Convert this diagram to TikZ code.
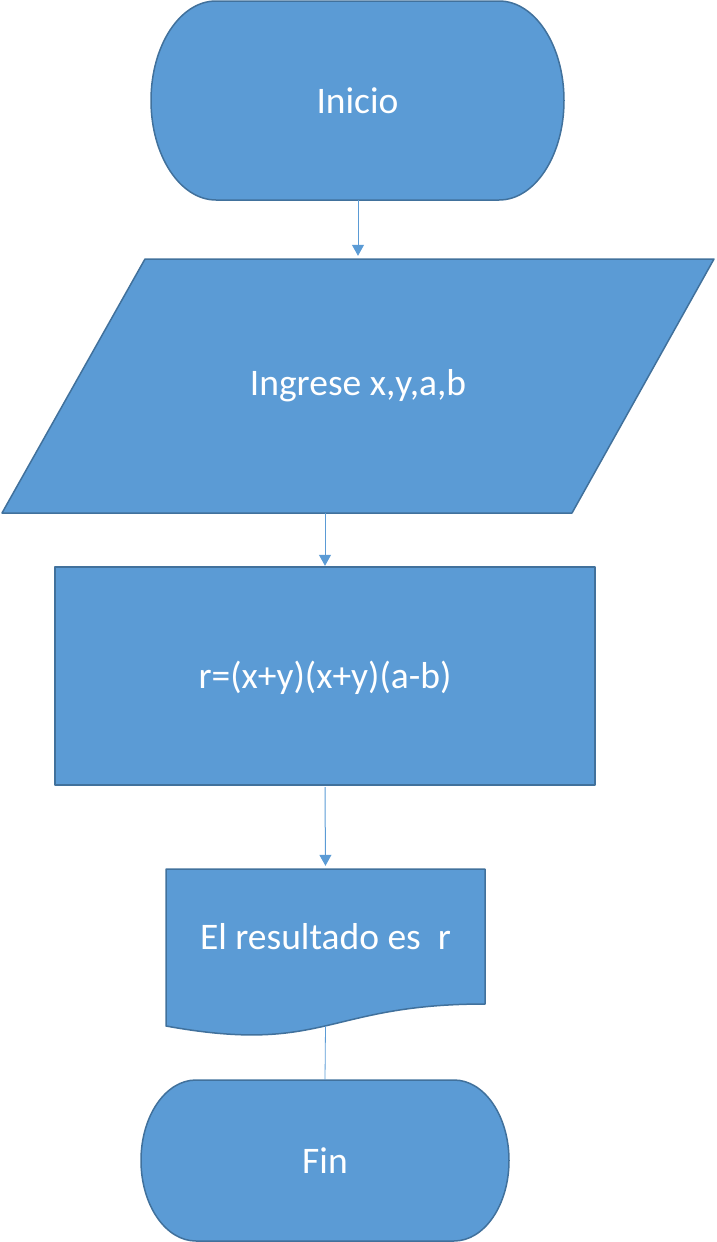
\documentclass[tikz,border=0pt]{standalone}
\usepackage{fontspec}
\setmainfont{Carlito}
\usetikzlibrary{arrows.meta}
\definecolor{shapefill}{HTML}{5B9BD5}
\definecolor{shapeline}{HTML}{41719C}
\definecolor{arrowcol}{HTML}{5B9BD5}
\pgfdeclarelayer{background}
\pgfsetlayers{background,main}
\tikzset{
  box/.style={draw=none, inner sep=0pt, text=white, font=\fontsize{37.5}{45}\selectfont},
  shp/.style={fill=shapefill, draw=shapeline, line width=1.5pt, line join=round},
  arr/.style={draw=arrowcol, line width=1pt, -{Triangle[width=12pt,length=11pt]}, shorten >=3pt},
  plain/.style={draw=arrowcol, line width=0.8pt}
}
\begin{document}
\begin{tikzpicture}[x=1pt,y=-1pt]
\useasboundingbox (0,0) rectangle (716,1242);
% nodes
\node[box, minimum width=413pt, minimum height=199pt] (inicio) at (357.5,100.5) {Inicio};
\node[box, minimum width=712pt, minimum height=254pt] (ingrese) at (358,386) {Ingrese x,y,a,b};
\node[box, minimum width=540pt, minimum height=218pt] (proc) at (325,678) {r=(x+y)(x+y)(a-b)};
\node[box, minimum width=319pt, minimum height=135pt] (doc) at (325.5,936.5) {El resultado es~~r};
\coordinate (docbottom) at (325.5,1026);
\node[box, minimum width=368pt, minimum height=161pt] (fin) at (325,1160.5) {Fin};
% shapes
\begin{pgfonlayer}{background}
\path[shp] (216,1) -- (499,1) arc[start angle=270,end angle=450,x radius=65,y radius=99.5]
  -- (216,200) arc[start angle=90,end angle=270,x radius=65,y radius=99.5] -- cycle;
\path[shp] (145,259) -- (714,259) -- (572,513) -- (2,513) -- cycle;
\path[shp] (55,567) rectangle (595,785);
\path[shp] (166,869) -- (485,869) -- (485,1004)
  .. controls (325.5,1004) and (325.5,1055) .. (166,1026) -- cycle;
\path[shp] (196,1080) -- (454,1080) arc[start angle=270,end angle=450,x radius=55,y radius=80.5]
  -- (196,1241) arc[start angle=90,end angle=270,x radius=55,y radius=80.5] -- cycle;
\end{pgfonlayer}
% connectors
\draw[arr] (inicio.south -| ingrese.north) -- (ingrese.north);
\draw[arr] (ingrese.south -| proc.north) -- (proc.north);
\draw[arr] (proc.south) -- (doc.north);
\draw[plain] (docbottom) -- (fin.north);
\end{tikzpicture}
\end{document}
